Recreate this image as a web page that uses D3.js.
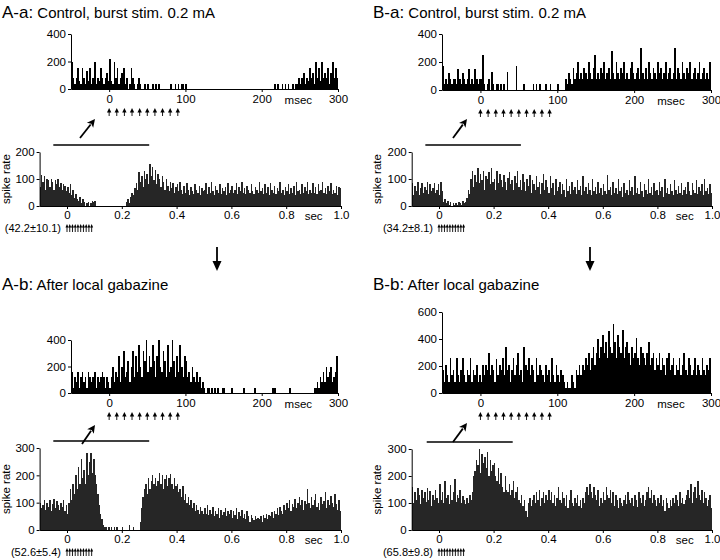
<!DOCTYPE html>
<html><head><meta charset="utf-8">
<script src="https://cdn.jsdelivr.net/npm/d3@7"></script>
<style>
body{margin:0;background:#fff}
svg{display:block;font-family:"Liberation Sans",Arial,Helvetica,sans-serif}
</style>
</head><body>
<svg id="c" width="720" height="560"></svg>
<script>
// ---------- DATA ----------
const MS_START = -50, MS_BIN = 2;        // msec histograms: 2 ms bins from -50 ms
const SEC_START = -0.1, SEC_BIN = 0.005; // sec histograms: 5 ms bins from -0.1 s

const aaMsec = [200,80,40,80,150,60,40,150,80,40,130,60,150,40,80,200,40,80,60,150,80,40,80,120,60,
  220,60,40,200,80,150,40,80,120,150,40,80,0,40,150,80,40,0,40,80,
  40,0,0,40,0,40,0,0,40,0,40,0,40,0,0,0,0,0,0,0,40,0,0,40,0,40,0,40,40,0,40,0,0,0,0,
  0,0,0,0,0,0,0,0,0,0,0,0,0,0,0,0,0,0,0,0,0,0,0,0,0,0,0,0,0,0,0,0,0,0,0,0,0,0,0,0,0,0,0,0,0,0,0,0,0,0,0,0,
  0,40,0,40,0,0,40,0,40,0,40,0,0,40,0,40,40,80,40,80,120,40,80,60,150,80,120,40,200,80,150,60,200,80,120,80,150,40,120,200,80,150,80];

const baMsec = [170,40,80,40,120,80,40,80,80,40,150,80,40,120,80,40,80,150,40,80,40,150,80,40,80,
  80,250,40,0,40,80,0,130,40,0,40,40,0,40,0,40,0,130,0,0,
  0,0,0,170,0,0,0,0,40,0,0,0,0,0,40,0,40,0,40,0,0,0,40,0,0,40,0,0,0,0,40,0,0,0,0,
  80,40,120,80,40,160,80,120,200,80,120,80,160,120,80,200,120,80,160,250,80,120,80,160,120,200,80,120,160,80,
  280,120,80,200,120,80,160,120,200,80,120,80,160,200,120,80,120,160,80,300,120,80,160,80,200,120,80,160,120,80,
  200,120,160,80,120,200,80,120,160,80,120,300,80,160,120,80,200,120,80,160,120,200,80,120,160,80,120,200,80,120,
  160,80,120,80,200];

const abMsec = [160,40,120,80,160,40,120,160,80,120,40,160,120,80,120,160,40,120,80,120,160,120,40,120,80,
  40,120,200,80,160,120,280,80,200,320,120,160,240,80,200,320,120,280,160,360,200,120,320,240,400,160,280,200,360,240,
  120,280,400,200,160,320,240,120,360,160,200,400,240,120,280,160,360,200,120,280,
  240,120,160,80,200,120,80,160,80,120,40,80,40,0,40,40,0,40,0,40,0,40,0,0,40,
  40,0,0,0,0,40,0,0,0,0, 0,0,0,40,0,0,0,0,0,0, 40,0,0,0,0,0,0,0,0,0,
  0,0,40,40,0,0,0,0,0,0, 0,0,0,40,0,0,0,0,0,0, 0,0,0,0,0,0,0,0,0,40,
  40,80,40,120,80,160,80,200,120,160,200,80,120,160,280];

const bbMsec = [170,80,210,130,80,260,130,170,80,260,130,80,170,260,130,80,170,130,260,80,170,130,210,80,130,
  80,210,130,210,170,300,130,210,170,80,250,130,210,170,260,130,340,170,210,80,170,260,130,210,300,130,170,80,340,210,
  170,260,130,210,170,80,260,130,210,170,130,80,210,130,170,80,260,130,80,210,130,80,170,130,80,
  40,80,40,40,130,80,40,170,130,210,
  130,210,170,260,210,300,170,260,340,210,300,400,260,340,430,300,380,260,460,340,
  300,510,380,260,430,340,300,470,260,340,380,300,210,340,260,300,410,260,210,340,
  300,260,210,300,380,210,260,300,170,260,210,300,170,260,210,130,260,300,170,210,
  260,130,210,170,260,130,210,300,170,130,260,210,130,170,260,130,210,170,130,260,
  170,130,210,170,260];

const aaSec = [70,115,90,110,60,100,95,70,100,90,60,95,80,100,70,85,60,80,75,55,
  70,50,80,40,60,30,45,25,20,35,10,25,15,0,10,15,0,10,20,15,
  20,0,0,0,0,0,0,0,0,0,0,0,0,0,0,0,0,0,0,0,
  0,0,0,15,25,10,35,50,40,65,85,60,125,90,110,70,130,100,120,80,
  155,110,145,95,135,80,120,100,70,110,90,60,100,75,55,90,65,85,50,70,
  80,55,90,60,45,75,50,85,60,40,70,55,45,80,60,50,75,40,65,55,
  60,85,45,70,50,90,55,40,75,60,50,80,45,65,55,70,40,85,50,60,
  75,50,60,85,45,70,55,90,50,65,45,75,60,50,80,55,45,70,60,50,
  90,55,65,45,80,50,70,40,85,60,50,75,45,65,55,90,50,60,40,70,
  55,80,45,65,50,75,40,90,55,60,45,80,50,70,55,90,45,60,50,85,
  50,70,45,80,55,60,90,50,65,45,75,55,85,45,60,50,75,40,70,65];

const baSec = [85,40,75,55,90,40,65,85,50,70,60,90,45,80,55,65,85,50,60,80,
  40,90,55,15,25,10,20,5,15,0,10,5,10,5,15,10,5,20,10,15,
  30,60,45,100,130,70,115,90,140,85,120,95,130,60,110,100,125,80,140,90,
  100,60,130,85,120,95,70,115,90,60,105,125,80,95,60,110,85,130,70,95,
  60,120,90,55,100,75,115,50,95,80,60,110,70,90,45,85,120,60,95,70,
  50,110,65,85,40,100,55,70,90,45,80,60,35,100,55,75,45,90,60,70,
  45,95,60,75,40,110,55,70,45,85,60,40,100,55,70,45,90,50,65,40,
  80,55,45,115,60,70,40,90,50,65,45,100,55,70,35,85,50,60,40,95,
  55,70,40,110,50,65,45,90,55,35,80,60,45,100,50,70,40,85,55,60,
  40,90,55,70,35,100,50,65,45,80,55,40,95,60,45,75,50,85,40,60,
  70,45,90,55,40,85,60,50,95,45,70,55,80,40,100,55,65,45,80,50];

const abSec = [100,80,90,110,75,100,85,110,70,95,115,80,105,90,75,100,85,110,70,90,
  60,100,150,110,170,130,200,150,230,170,260,190,220,170,280,200,250,280,210,260,
  200,170,130,90,60,40,20,10,10,0,10,0,10,0,10,0,10,0,0,0,
  10,0,0,0,0,20,0,0,10,0,0,0,0,30,80,120,150,170,130,190,
  150,180,200,170,190,160,180,210,170,200,150,185,200,160,190,205,170,150,190,160,
  170,140,150,120,160,110,130,100,120,90,110,80,100,70,90,75,60,85,70,60,
  80,60,90,55,75,60,85,50,70,60,80,45,75,55,65,80,50,70,60,75,
  45,70,55,80,40,65,50,75,45,60,40,70,50,30,55,45,35,50,40,45,
  40,50,30,55,45,60,40,55,50,65,45,70,60,80,55,85,70,60,90,75,
  100,80,110,70,95,85,115,80,100,120,90,110,75,105,95,150,100,80,120,90,
  110,130,85,100,75,120,95,105,140,80,110,90,125,100,85,130,95,75,110,70];

const bbSec = [160,100,140,110,155,130,95,150,120,140,105,155,110,145,90,130,110,150,120,100,
  170,110,140,100,180,120,130,95,165,110,140,190,105,130,120,150,100,125,110,95,
  120,100,130,110,140,200,220,260,240,300,210,280,250,270,230,290,200,260,220,240,
  250,200,180,230,170,210,160,140,200,150,140,170,130,150,180,120,140,160,110,100,
  130,90,110,70,50,100,120,90,110,130,100,140,110,150,90,120,140,100,130,110,
  150,110,140,100,130,90,120,160,110,100,140,120,90,130,80,110,150,100,90,120,
  100,130,90,110,80,120,100,140,160,130,170,140,120,160,130,110,150,90,120,100,
  140,110,160,130,120,150,100,140,90,130,110,80,120,100,90,110,130,95,140,110,
  100,120,90,130,110,85,140,120,100,130,90,110,140,160,120,150,100,130,110,90,
  120,100,130,90,110,70,120,100,80,110,90,120,100,130,110,90,140,100,120,95,
  110,130,150,120,170,100,140,160,120,180,130,110,150,100,140,120,90,110,130,80];

const titleTags = ["A-a:", "B-a:", "A-b:", "B-b:"];
const titleTexts = ["Control, burst stim. 0.2 mA", "Control, burst stim. 0.2 mA",
                    "After local gabazine", "After local gabazine"];
const meanLabels = ["(42.2\u00b110.1)", "(34.2\u00b18.1)", "(52.6\u00b15.4)", "(65.8\u00b19.8)"];
const msecTicks = [0, 100, 200, 300];
const secTicks = [0, 0.2, 0.4, 0.6, 0.8, 1.0];
const secTickLabels = ["0", "0.2", "0.4", "0.6", "0.8", "1.0"];
const stimMs = [0, 10, 20, 30, 40, 50, 60, 70, 80, 90];
const msecYTicks = [[0,200,400],[0,200,400],[0,200,400],[0,200,400,600]];
const msecYMax = [400, 400, 400, 600];
const secYTicks = [[0,100,200],[0,100,200],[0,100,200,300],[0,100,200,300]];
const secYMax = [200, 200, 300, 300];
const windowSec = [[-0.05,0.3],[-0.05,0.3],[-0.05,0.3],[-0.045,0.27]];
const yLabel = "spike rate";

// ---------- LAYOUT ----------
const svg = d3.select("#c");
const msData = [aaMsec, baMsec, abMsec, bbMsec];
const secData = [aaSec, baSec, abSec, bbSec];
const L = [
  {tx:2,  ty:18,  msX:[71,338],  msY:[89,34],   secX:[39.6,341], secY:[206,152], yl:10,
   big:[[80,138],[95,119]], down:[217,247,271]},
  {tx:373,ty:18,  msX:[442,711], msY:[90,34],   secX:[411.7,712], secY:[206,152], yl:381,
   big:[[453,138],[467,119]], down:[590,247,271]},
  {tx:2,  ty:290, msX:[71,338],  msY:[393,340], secX:[39.6,341], secY:[530,448], yl:10,
   big:[[82,444],[95,425]]},
  {tx:373,ty:290, msX:[442,711], msY:[393,312], secX:[411.7,712], secY:[530,449], yl:381,
   big:[[453,442],[467,423]]}
];

function hist(g, data, start, bin, x, y, fill) {
  g.append("g").attr("shape-rendering", "crispEdges")
    .selectAll("rect").data(data).join("rect")
    .attr("x", (d, i) => x(start + i * bin))
    .attr("width", (d, i) => x(start + (i + 1) * bin) - x(start + i * bin) + 0.15)
    .attr("y", d => y(d))
    .attr("height", d => y(0) - y(d))
    .attr("fill", fill);
}
function styleAxis(a, size) {
  a.selectAll("text").attr("font-size", size).attr("font-family", null).attr("fill", "#000");
  a.selectAll("line,path").attr("stroke", "#000").attr("stroke-width", 1);
  a.attr("font-family", null);
}
function stimArrow(g, cx, top, bot, hw, hh) {
  g.append("line").attr("x1", cx).attr("x2", cx).attr("y1", top + hh - 0.5).attr("y2", bot)
    .attr("stroke", "#000").attr("stroke-width", 0.9);
  g.append("path").attr("d", `M${cx - hw},${top + hh}L${cx},${top}L${cx + hw},${top + hh}Z`).attr("fill", "#000");
}
function bigArrow(g, p0, p1) {
  const dx = p1[0] - p0[0], dy = p1[1] - p0[1], len = Math.hypot(dx, dy);
  const ux = dx / len, uy = dy / len, nx = -uy, ny = ux, hl = 8, hw = 4;
  const bx = p1[0] - ux * hl, by = p1[1] - uy * hl;
  g.append("line").attr("x1", p0[0]).attr("y1", p0[1]).attr("x2", bx + ux).attr("y2", by + uy)
    .attr("stroke", "#000").attr("stroke-width", 1.8);
  g.append("path").attr("d", `M${p1[0]},${p1[1]}L${bx + nx * hw},${by + ny * hw}L${bx + ux*2},${by + uy*2}L${bx - nx * hw},${by - ny * hw}Z`).attr("fill", "#000");
}

L.forEach((p, k) => {
  const g = svg.append("g");
  // title
  const t = g.append("text").attr("x", p.tx).attr("y", p.ty);
  t.append("tspan").attr("font-size", 17).text(titleTags[k]);
  t.append("tspan").attr("font-size", 15).text(" " + titleTexts[k]);

  // ---- msec panel ----
  const xm = d3.scaleLinear().domain([-50, 300]).range(p.msX);
  const ym = d3.scaleLinear().domain([0, msecYMax[k]]).range(p.msY);
  hist(g, msData[k], MS_START, MS_BIN, xm, ym, "#000");
  const ax = g.append("g").attr("transform", `translate(0,${p.msY[0]})`)
    .call(d3.axisBottom(xm).tickValues(msecTicks).tickFormat(d3.format("d")).tickSize(3).tickSizeOuter(0).tickPadding(3));
  styleAxis(ax, 11.5);
  const ay = g.append("g").attr("transform", `translate(${p.msX[0]},0)`)
    .call(d3.axisLeft(ym).tickValues(msecYTicks[k]).tickSize(3).tickSizeOuter(0).tickPadding(2));
  styleAxis(ay, 11.5);
  g.append("text").attr("x", xm(248)).attr("y", p.msY[0] + 15).attr("text-anchor", "middle")
    .attr("font-size", 11.5).text("msec");
  stimMs.forEach(s => stimArrow(g, xm(s), p.msY[0] + 19, p.msY[0] + 27, 2.2, 4.5));

  // big diagonal arrow
  bigArrow(g, p.big[0], p.big[1]);

  // ---- sec panel ----
  const xs = d3.scaleLinear().domain([-0.1, 1.0]).range(p.secX);
  const ys = d3.scaleLinear().domain([0, secYMax[k]]).range(p.secY);
  // analysis window bar
  g.append("line").attr("x1", xs(windowSec[k][0])).attr("x2", xs(windowSec[k][1]))
    .attr("y1", p.secY[1] - 7).attr("y2", p.secY[1] - 7).attr("stroke", "#000").attr("stroke-width", 1.5);
  hist(g, secData[k], SEC_START, SEC_BIN, xs, ys, "#262626");
  const bx = g.append("g").attr("transform", `translate(0,${p.secY[0]})`)
    .call(d3.axisBottom(xs).tickValues(secTicks).tickFormat((d, i) => secTickLabels[i]).tickSize(3).tickSizeOuter(0).tickPadding(2));
  styleAxis(bx, 11.5);
  const by = g.append("g").attr("transform", `translate(${p.secX[0]},0)`)
    .call(d3.axisLeft(ys).tickValues(secYTicks[k]).tickSize(3).tickSizeOuter(0).tickPadding(2));
  styleAxis(by, 11.5);
  g.append("text").attr("x", xs(0.9)).attr("y", p.secY[0] + 14).attr("text-anchor", "middle")
    .attr("font-size", 11.5).text("sec");
  g.append("text").attr("transform", `translate(${p.yl},${(p.secY[0] + p.secY[1]) / 2}) rotate(-90)`)
    .attr("text-anchor", "middle").attr("font-size", 11.5).text(yLabel);
  g.append("text").attr("x", xs(0) - 6).attr("y", p.secY[0] + 26).attr("text-anchor", "end")
    .attr("font-size", 11).text(meanLabels[k]);
  stimMs.forEach(s => stimArrow(g, xs(s / 1000), p.secY[0] + 18, p.secY[0] + 26, 1.5, 3.5));

  // down arrow between rows
  if (p.down) {
    const [dxp, y0, y1] = p.down;
    g.append("line").attr("x1", dxp).attr("x2", dxp).attr("y1", y0).attr("y2", y1 - 8)
      .attr("stroke", "#000").attr("stroke-width", 1.8);
    g.append("path").attr("d", `M${dxp - 4.5},${y1 - 10}L${dxp + 4.5},${y1 - 10}L${dxp},${y1}Z`).attr("fill", "#000");
  }
});
</script>
</body></html>
